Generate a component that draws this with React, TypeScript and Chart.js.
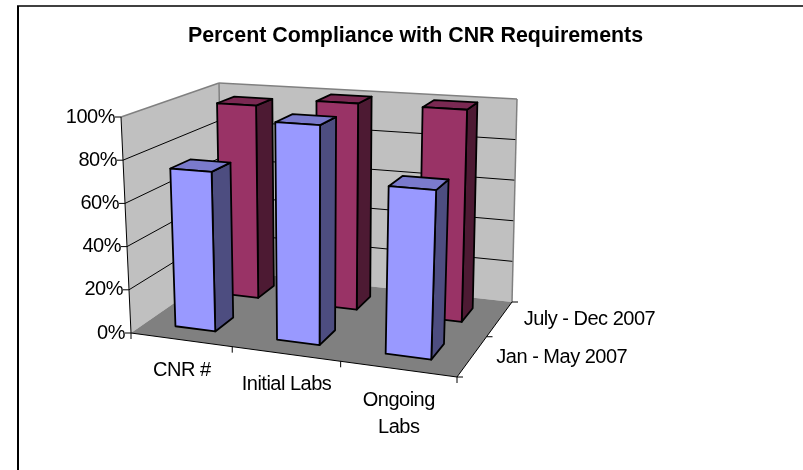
import React, { useEffect, useRef } from "react";
import { Chart, registerables } from "chart.js";

Chart.register(...registerables);

const chartTitle = "Percent Compliance with CNR Requirements";
const categories: (string | string[])[] = ["CNR #", "Initial Labs", ["Ongoing", "Labs"]];
const seriesNames = ["Jan - May 2007", "July - Dec 2007"];
const janMay = [74, 99, 74];
const julyDec = [96, 100, 100];

const FONT = '"Liberation Sans", Arial, sans-serif';
const LABEL_FONT = `20px ${FONT}`;
const LETTER = "-0.5px";

const faceColors = [
  { front: "#9999ff", side: "#4d4d80", top: "#7a7acc" },
  { front: "#993366", side: "#4d1a33", top: "#7a2952" },
];

type P = [number, number];
// Projection frame of the 3D box: floor and ceiling corners (front-left, front-right, back-right, back-left)
const floorQuad: P[] = [[131, 333], [457, 377], [512, 302], [222, 270]];
const ceilQuad: P[] = [[121, 117], [466, 140], [517, 99], [219, 83]];
const depthCenters = [0.25, 0.75];
const depthHalf = 0.1;

function homography(q: P[]) {
  const [[x0, y0], [x1, y1], [x2, y2], [x3, y3]] = q;
  const dx1 = x1 - x2, dx2 = x3 - x2, sx = x0 - x1 + x2 - x3;
  const dy1 = y1 - y2, dy2 = y3 - y2, sy = y0 - y1 + y2 - y3;
  const det = dx1 * dy2 - dx2 * dy1;
  const g = (sx * dy2 - dx2 * sy) / det;
  const h = (dx1 * sy - sx * dy1) / det;
  const a = x1 - x0 + g * x1, b = x3 - x0 + h * x3;
  const d = y1 - y0 + g * y1, e = y3 - y0 + h * y3;
  return (u: number, v: number): P => {
    const w = g * u + h * v + 1;
    return [(a * u + b * v + x0) / w, (d * u + e * v + y0) / w];
  };
}
const floorMap = homography(floorQuad);
const ceilMap = homography(ceilQuad);
const project = (u: number, v: number, t: number): P => {
  const f = floorMap(u, v), c = ceilMap(u, v);
  return [f[0] + (c[0] - f[0]) * t, f[1] + (c[1] - f[1]) * t];
};

function poly(ctx: CanvasRenderingContext2D, pts: P[], fill?: string, stroke?: string, lw = 1) {
  ctx.beginPath();
  pts.forEach((p, i) => (i ? ctx.lineTo(p[0], p[1]) : ctx.moveTo(p[0], p[1])));
  ctx.closePath();
  if (fill) { ctx.fillStyle = fill; ctx.fill(); }
  if (stroke) { ctx.strokeStyle = stroke; ctx.lineWidth = lw; ctx.lineJoin = "round"; ctx.stroke(); }
}
function line(ctx: CanvasRenderingContext2D, a: P, b: P, color: string, lw = 1) {
  ctx.beginPath();
  ctx.moveTo(a[0], a[1]);
  ctx.lineTo(b[0], b[1]);
  ctx.strokeStyle = color;
  ctx.lineWidth = lw;
  ctx.stroke();
}

const scene3d = {
  id: "scene3d",
  beforeDraw(chart: any) {
    const ctx: CanvasRenderingContext2D = chart.ctx;
    ctx.save();
    ctx.fillStyle = "#fff";
    ctx.fillRect(0, 0, chart.width, chart.height);
    line(ctx, [18, 6], [18, 470], "#000", 2);
    line(ctx, [17, 6], [803, 6], "#000", 1.5);
    ctx.restore();
  },
  beforeDatasetsDraw(chart: any) {
    const ctx: CanvasRenderingContext2D = chart.ctx;
    const { x: xs, y: ys } = chart.scales;
    const frac = (v: number) => (ys.bottom - ys.getPixelForValue(v)) / (ys.bottom - ys.top);
    ctx.save();

    // walls and floor
    poly(ctx, [project(0, 0, 0), project(0, 0, 1), project(0, 1, 1), project(0, 1, 0)], "#c0c0c0");
    poly(ctx, [project(0, 1, 0), project(0, 1, 1), project(1, 1, 1), project(1, 1, 0)], "#c0c0c0");
    poly(ctx, [project(0, 0, 0), project(1, 0, 0), project(1, 1, 0), project(0, 1, 0)], "#808080");

    // gridlines on the walls
    ys.ticks.forEach((tick: any) => {
      const t = frac(tick.value);
      if (t > 0 && t < 1) {
        line(ctx, project(0, 0, t), project(0, 1, t), "#000", 1);
        line(ctx, project(0, 1, t), project(1, 1, t), "#000", 1);
      }
    });

    // wall outlines
    line(ctx, project(0, 0, 1), project(0, 1, 1), "#808080", 1.5);
    line(ctx, project(0, 1, 1), project(1, 1, 1), "#808080", 1.5);
    line(ctx, project(0, 1, 0), project(0, 1, 1), "#808080", 1.5);
    line(ctx, project(1, 1, 0), project(1, 1, 1), "#808080", 1.5);

    // axes
    line(ctx, project(0, 0, 0), project(0, 0, 1), "#000", 1);
    line(ctx, project(0, 0, 0), project(1, 0, 0), "#000", 1);
    line(ctx, project(1, 0, 0), project(1, 1, 0), "#000", 1);

    ctx.fillStyle = "#000";
    ctx.font = LABEL_FONT;
    (ctx as any).letterSpacing = LETTER;

    // value axis
    ctx.textAlign = "right";
    ctx.textBaseline = "middle";
    ys.ticks.forEach((tick: any) => {
      const p = project(0, 0, frac(tick.value));
      line(ctx, p, [p[0] - 6, p[1]], "#000", 1);
      ctx.fillText(tick.label, p[0] - 6, p[1]);
    });

    // category axis
    const n = categories.length;
    for (let i = 0; i <= n; i++) {
      const p = project(i / n, 0, 0);
      line(ctx, p, [p[0], p[1] + 6], "#000", 1);
    }
    ctx.textAlign = "center";
    xs.ticks.forEach((tick: any, i: number) => {
      const u = (xs.getPixelForValue(i) - xs.left) / xs.width;
      const p = project(u, 0, 0);
      const lines: string[] = Array.isArray(tick.label) ? tick.label : [tick.label];
      lines.forEach((s, k) => ctx.fillText(s, p[0] + 1, p[1] + 31 + k * 27));
    });

    // depth axis
    [0, 0.5, 1].forEach((v) => {
      const p = project(1, v, 0);
      line(ctx, p, [p[0] + 6, p[1]], "#000", 1);
    });
    ctx.textAlign = "left";
    depthCenters.forEach((v, i) => {
      const p = project(1, v, 0);
      ctx.fillText(chart.data.datasets[i].label, p[0] + 24, p[1] + 1);
    });

    // bars, back row first
    for (let di = chart.data.datasets.length - 1; di >= 0; di--) {
      const meta = chart.getDatasetMeta(di);
      const colors = faceColors[di];
      const v0 = depthCenters[di] - depthHalf, v1 = depthCenters[di] + depthHalf;
      meta.data.forEach((el: any) => {
        const p = el.getProps(["x", "y", "width"], true);
        const u0 = (p.x - p.width / 2 - xs.left) / xs.width;
        const u1 = (p.x + p.width / 2 - xs.left) / xs.width;
        const t = (ys.bottom - p.y) / (ys.bottom - ys.top);
        const stroke = "#000", lw = 1.8;
        poly(ctx, [project(u1, v0, 0), project(u1, v1, 0), project(u1, v1, t), project(u1, v0, t)], colors.side, stroke, lw);
        poly(ctx, [project(u0, v0, t), project(u1, v0, t), project(u1, v1, t), project(u0, v1, t)], colors.top, stroke, lw);
        poly(ctx, [project(u0, v0, 0), project(u1, v0, 0), project(u1, v0, t), project(u0, v0, t)], colors.front, stroke, lw);
      });
    }
    ctx.restore();
  },
};

export default function App() {
  const ref = useRef<HTMLCanvasElement>(null);
  useEffect(() => {
    const chart = new Chart(ref.current!, {
      type: "bar",
      data: {
        labels: categories as any,
        datasets: [
          { label: seriesNames[0], data: janMay, backgroundColor: "transparent", borderWidth: 0 },
          { label: seriesNames[1], data: julyDec, backgroundColor: "transparent", borderWidth: 0 },
        ],
      },
      options: {
        animation: false,
        responsive: false,
        devicePixelRatio: 1,
        layout: { padding: { left: 28, top: 23, right: 0, bottom: 20 } },
        datasets: { bar: { grouped: false, barPercentage: 0.4, categoryPercentage: 1 } },
        plugins: {
          legend: { display: false },
          tooltip: { enabled: false },
          title: {
            display: true,
            text: chartTitle,
            color: "#000",
            font: { family: FONT, size: 21.4, weight: "bold" },
            padding: { top: 0, bottom: 0 },
          },
        },
        scales: {
          x: { display: false, ticks: { autoSkip: false } },
          y: {
            display: false,
            min: 0,
            max: 100,
            ticks: { stepSize: 20, callback: (v: any) => `${v}%` },
          },
        },
      } as any,
      plugins: [scene3d],
    });
    return () => chart.destroy();
  }, []);
  return (
    <div style={{ position: "fixed", left: 0, top: 0, width: 803, height: 470, background: "#fff" }}>
      <canvas ref={ref} width={803} height={470} style={{ display: "block" }} />
    </div>
  );
}
